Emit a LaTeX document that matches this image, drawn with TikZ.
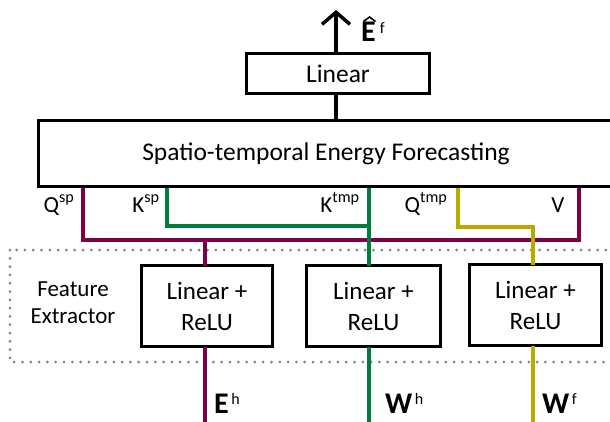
\documentclass[tikz,border=0pt]{standalone}
\usepackage{fontspec}
\setmainfont{Carlito}
\usetikzlibrary{arrows.meta}
\definecolor{cpur}{RGB}{125,0,75}
\definecolor{cgrn}{RGB}{0,125,60}
\definecolor{cyel}{RGB}{185,170,0}
\newcommand{\suplbl}[2]{\textbf{#1}\hspace{2.5pt}\raisebox{9pt}{\fontsize{16}{16}\selectfont\mdseries #2}}
\begin{document}
\begin{tikzpicture}[x=1pt,y=-1pt,
  box/.style={draw, line width=3.3pt, inner sep=0pt, outer sep=0pt, align=center},
  wire/.style={line width=3.5pt},
  lbl/.style={font=\fontsize{23}{26}\selectfont, inner sep=0pt, anchor=base},
  outlbl/.style={font=\fontsize{30}{32}\selectfont, inner sep=0pt, anchor=base west},
  dotbox/.style={draw=black!50, line width=3pt, line cap=round, dash pattern=on 0pt off 8.3pt}]
\useasboundingbox (0,0) rectangle (610,421);
\clip (0,0) rectangle (610,421);
% feature extractor frame
\draw[dotbox] (10,250) rectangle (640,362);
\node[font=\fontsize{23}{27}\selectfont, align=center] (fx) at (73,303) {Feature\\Extractor};
% boxes
\node[box, minimum width=183, minimum height=40, font=\fontsize{25.5}{28}\selectfont] (lin) at (338,73.5) {Linear};
\node[box, line width=3pt, minimum width=575, minimum height=66, font=\fontsize{25.5}{28}\selectfont] (stef) at (326,153.5) {Spatio-temporal Energy Forecasting};
\node[box, minimum width=131, minimum height=81, font=\fontsize{25}{31}\selectfont] (fe1) at (207,306) {Linear +\\ReLU};
\node[box, minimum width=134, minimum height=81, font=\fontsize{25}{31}\selectfont] (fe2) at (373.5,306) {Linear +\\ReLU};
\node[box, minimum width=132, minimum height=81, font=\fontsize{25}{31}\selectfont] (fe3) at (535.5,305) {Linear +\\ReLU};
% coordinates
\coordinate (top) at (336,10);
\coordinate (qsp) at (83,188);
\coordinate (ksp) at (167,188);
\coordinate (ktmp) at (369,188);
\coordinate (qtmp) at (458,188);
\coordinate (vv) at (579,188);
\coordinate (pj) at (205,240);
\coordinate (gj) at (369,226);
\coordinate (yj) at (533,227);
\coordinate (eh) at (205,425);
\coordinate (wh) at (369,425);
\coordinate (wf) at (533,425);
% top
\draw[line width=3.5pt, -{Straight Barb[length=12pt,width=28pt]}] (lin.north -| top) -- (top);
\draw[line width=3.5pt] (lin.south -| top) -- (stef.north -| top);
\node[outlbl] (ef) at (361,41) {\textbf{E}\hspace{4pt}\raisebox{8pt}{\fontsize{16}{16}\selectfont\mdseries f}};
\draw[line width=1.6pt, line join=miter] (363.5,21.5) -- (369.5,17) -- (375.5,21.5);
% purple
\draw[wire, cpur] (qsp) |- (pj) -| (vv);
\draw[wire, cpur] (pj) -- (pj |- fe1.north);
\draw[wire, cpur] (fe1.south -| pj) -- (eh);
% green
\draw[wire, cgrn] (ksp) |- (gj);
\draw[wire, cgrn] (ktmp) -- (ktmp |- fe2.north);
\draw[wire, cgrn] (fe2.south -| ktmp) -- (wh);
% yellow
\draw[wire, cyel] (qtmp) |- (yj) -- (yj |- fe3.north);
\draw[wire, cyel] (fe3.south -| yj) -- (wf);
% labels
\node[lbl] (lqsp) at (59,212) {Q\textsuperscript{sp}};
\node[lbl] (lksp) at (146,212) {K\textsuperscript{sp}};
\node[lbl] (lktmp) at (340,212) {K\textsuperscript{tmp}};
\node[lbl] (lqtmp) at (426,212) {Q\textsuperscript{tmp}};
\node[lbl] (lv) at (558,212) {V};
\node[outlbl] (leh) at (214,413) {\suplbl{E}{h}};
\node[outlbl] (lwh) at (385,413) {\suplbl{W}{h}};
\node[outlbl] (lwf) at (542,413) {\suplbl{W}{f}};
\end{tikzpicture}
\end{document}
